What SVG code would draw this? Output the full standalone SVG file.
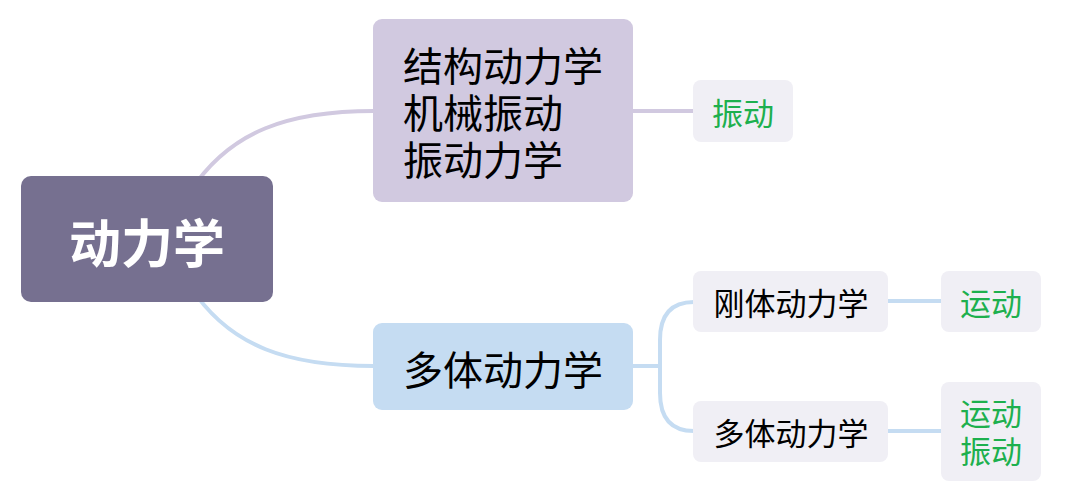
<svg xmlns="http://www.w3.org/2000/svg" width="1072" height="494" viewBox="0 0 1072 494">
<style>
text{font-family:"Noto Sans CJK SC","Noto Sans",sans-serif;text-anchor:middle;dominant-baseline:central}
.lav{fill:none;stroke:#d1c9e0;stroke-width:4}
.blu{fill:none;stroke:#c5dcf2;stroke-width:4}
.leaf{fill:#f0eff5}
.g{fill:#1db04e;font-size:31px}
.k{fill:#000;font-size:31px}
</style>
<g id="connectors">
<path class="lav" d="M190 192 C230 130 290 111 374 111"/>
<path class="blu" d="M190 286 C230 348 290 366 374 366"/>
<path class="lav" d="M632 111 H694" stroke-width="3"/>
<path class="blu" d="M632 366 H660" stroke-width="3"/>
<path class="blu" d="M694 302 Q660 302 660 340 L660 393 Q660 431 694 431" stroke-width="3"/>
<path class="blu" d="M887 301 H942" stroke-width="3"/>
<path class="blu" d="M887 431 H942" stroke-width="3"/>
</g>
<g id="root">
<rect x="21" y="176" width="252" height="126" rx="10" fill="#767090"/>
<text x="147" y="240" fill="#fff" font-size="52" font-weight="bold">动力学</text>
</g>
<g id="n1">
<rect x="373" y="19" width="260" height="183" rx="9" fill="#d1c9e0"/>
<text font-size="40" style="text-anchor:start"><tspan x="403" y="64">结构动力学</tspan><tspan x="403" y="111">机械振动</tspan><tspan x="403" y="158">振动力学</tspan></text>
</g>
<g id="n2">
<rect x="373" y="323" width="260" height="87" rx="9" fill="#c5dcf2"/>
<text x="503" y="368" font-size="40">多体动力学</text>
</g>
<g id="leaf1">
<rect class="leaf" x="693" y="80" width="100" height="62" rx="8"/>
<text class="g" x="743" y="111">振动</text>
</g>
<g id="n3">
<rect class="leaf" x="693" y="271" width="195" height="61" rx="8"/>
<text class="k" x="791" y="301">刚体动力学</text>
</g>
<g id="n4">
<rect class="leaf" x="693" y="401" width="195" height="61" rx="8"/>
<text class="k" x="791" y="431">多体动力学</text>
</g>
<g id="leaf2">
<rect class="leaf" x="941" y="271" width="100" height="61" rx="8"/>
<text class="g" x="991" y="301">运动</text>
</g>
<g id="leaf3">
<rect class="leaf" x="941" y="382" width="100" height="99" rx="8"/>
<text class="g"><tspan x="991" y="411">运动</tspan><tspan x="991" y="449">振动</tspan></text>
</g>
</svg>
